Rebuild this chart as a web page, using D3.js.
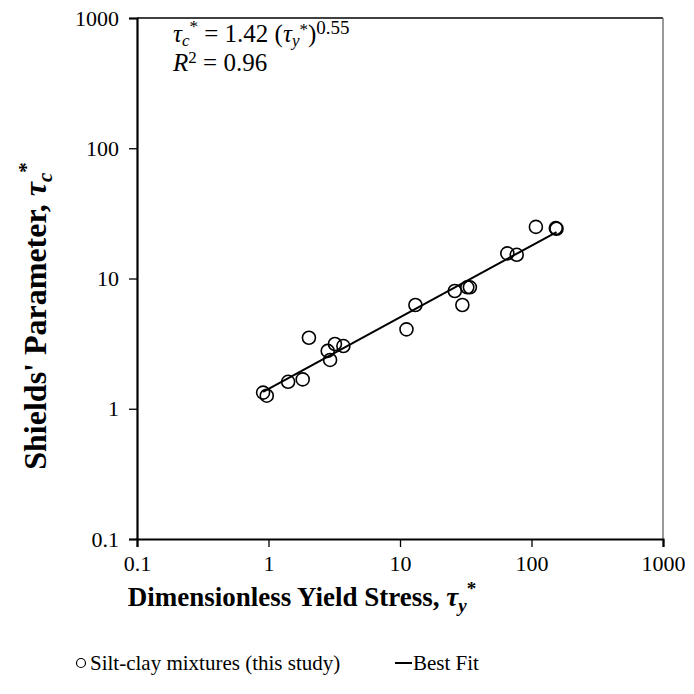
<!DOCTYPE html>
<html>
<head>
<meta charset="utf-8">
<script src="https://cdn.jsdelivr.net/npm/d3@7"></script>
<style>
  body { margin: 0; background: #fff; }
</style>
</head>
<body>
<div id="chart"></div>
<script>
// data
var yieldStress = [0.91, 0.97, 1.41, 1.82, 2.03, 2.82, 3.20, 3.71, 2.94, 11.2, 13.1, 26.1, 29.8, 32.5, 34.0, 65.5, 77.2, 108, 155, 153];
var shields =     [1.33, 1.26, 1.61, 1.68, 3.51, 2.78, 3.14, 3.03, 2.37, 4.07, 6.26, 8.02, 6.26, 8.56, 8.56, 15.6, 15.2, 24.9, 24.1, 24.4];
var tickValues = [0.1, 1, 10, 100, 1000];
var tickLabels = ["0.1", "1", "10", "100", "1000"];
var fitCoef = 1.42, fitExp = 0.55;
var fitRange = [0.91, 155];

var serif = '"Liberation Serif"';
var width = 694, height = 694;
var margin = {top: 18, left: 137, right: 31, bottom: 155};
var plotW = width - margin.left - margin.right;
var plotH = height - margin.top - margin.bottom;

var svg = d3.select("#chart").append("svg")
    .attr("width", width)
    .attr("height", height);

var g = svg.append("g")
    .attr("transform", `translate(${margin.left},${margin.top})`);

var x = d3.scaleLog().domain([0.1, 1000]).range([0, plotW]);
var y = d3.scaleLog().domain([0.1, 1000]).range([plotH, 0]);

// top and right frame
g.append("line").attr("x1", 0).attr("x2", plotW).attr("y1", 0).attr("y2", 0)
    .attr("stroke", "#000").attr("stroke-width", 1.5);
g.append("line").attr("x1", plotW).attr("x2", plotW).attr("y1", 0).attr("y2", plotH)
    .attr("stroke", "#777").attr("stroke-width", 1.5);

// axes
var xAxis = g.append("g")
    .attr("transform", `translate(0,${plotH})`)
    .call(d3.axisBottom(x).tickValues(tickValues).tickFormat((d, i) => tickLabels[i]).tickSize(8).tickPadding(8));
var yAxis = g.append("g")
    .call(d3.axisLeft(y).tickValues(tickValues).tickFormat((d, i) => tickLabels[i]).tickSize(8).tickPadding(10));

[xAxis, yAxis].forEach(a => {
    a.select(".domain").attr("stroke", "#000").attr("stroke-width", 2.2);
    a.selectAll(".tick line").attr("stroke", "#000").attr("stroke-width", 1.3);
    a.selectAll(".tick text").style("font-family", serif).style("font-size", "22px");
});

// best fit line
var fitData = fitRange.map(v => ({x: v, y: fitCoef * Math.pow(v, fitExp)}));
g.append("path")
    .datum(fitData)
    .attr("fill", "none")
    .attr("stroke", "#000")
    .attr("stroke-width", 2)
    .attr("d", d3.line().x(d => x(d.x)).y(d => y(d.y)));

// points
g.selectAll(".pt")
    .data(yieldStress.map((v, i) => ({x: v, y: shields[i]})))
    .enter()
    .append("circle")
    .attr("class", "pt")
    .attr("cx", d => x(d.x))
    .attr("cy", d => y(d.y))
    .attr("r", 6.5)
    .attr("fill", "none")
    .attr("stroke", "#000")
    .attr("stroke-width", 1.6);

// equation
var eq = g.append("text").attr("x", 36).attr("y", 24)
    .style("font-family", serif).style("font-size", "25px");
eq.append("tspan").style("font-style", "italic").text("τ");
eq.append("tspan").style("font-style", "italic").style("font-size", "17px").attr("dy", 4).text("c");
eq.append("tspan").style("font-size", "17px").attr("dy", -14).text("*");
eq.append("tspan").attr("dy", 10).text(" = 1.42 (");
eq.append("tspan").style("font-style", "italic").text("τ");
eq.append("tspan").style("font-style", "italic").style("font-size", "17px").attr("dy", 4).text("y");
eq.append("tspan").style("font-size", "17px").attr("dy", -11).text("*");
eq.append("tspan").attr("dy", 7).text(")");
eq.append("tspan").style("font-size", "19px").attr("dy", -8).text("0.55");

var r2 = g.append("text").attr("x", 36).attr("y", 53)
    .style("font-family", serif).style("font-size", "25px");
r2.append("tspan").style("font-style", "italic").text("R");
r2.append("tspan").style("font-size", "17px").attr("dy", -8).text("2");
r2.append("tspan").attr("dy", 8).text(" = 0.96");

// x title
var xt = svg.append("text")
    .attr("x", 302)
    .attr("y", 606)
    .attr("text-anchor", "middle")
    .style("font-family", serif)
    .style("font-size", "27px")
    .style("font-weight", "bold");
xt.append("tspan").text("Dimensionless Yield Stress, ");
xt.append("tspan").style("font-style", "italic").text("τ");
xt.append("tspan").style("font-style", "italic").style("font-size", "19px").attr("dy", 6).text("y");
xt.append("tspan").style("font-size", "19px").attr("dy", -17).text("*");

// y title
var yt = svg.append("text")
    .attr("transform", `translate(46,316) rotate(-90)`)
    .attr("text-anchor", "middle")
    .style("font-family", serif)
    .style("font-size", "32px")
    .style("font-weight", "bold");
yt.append("tspan").text("Shields' Parameter, ");
yt.append("tspan").style("font-style", "italic").text("τ");
yt.append("tspan").style("font-style", "italic").style("font-size", "21px").attr("dy", 6).text("c");
yt.append("tspan").style("font-size", "21px").attr("dy", -19).text("*");

// legend
var leg = svg.append("g").attr("transform", "translate(0,663)");
leg.append("circle").attr("cx", 81).attr("cy", 0).attr("r", 4.5)
    .attr("fill", "none").attr("stroke", "#000").attr("stroke-width", 1.2);
leg.append("text").attr("x", 90).attr("y", 7)
    .style("font-family", serif).style("font-size", "21px").text("Silt-clay mixtures (this study)");
leg.append("line").attr("x1", 395).attr("x2", 412).attr("y1", 0).attr("y2", 0)
    .attr("stroke", "#000").attr("stroke-width", 2);
leg.append("text").attr("x", 413).attr("y", 7)
    .style("font-family", serif).style("font-size", "21px").text("Best Fit");
</script>
</body>
</html>
